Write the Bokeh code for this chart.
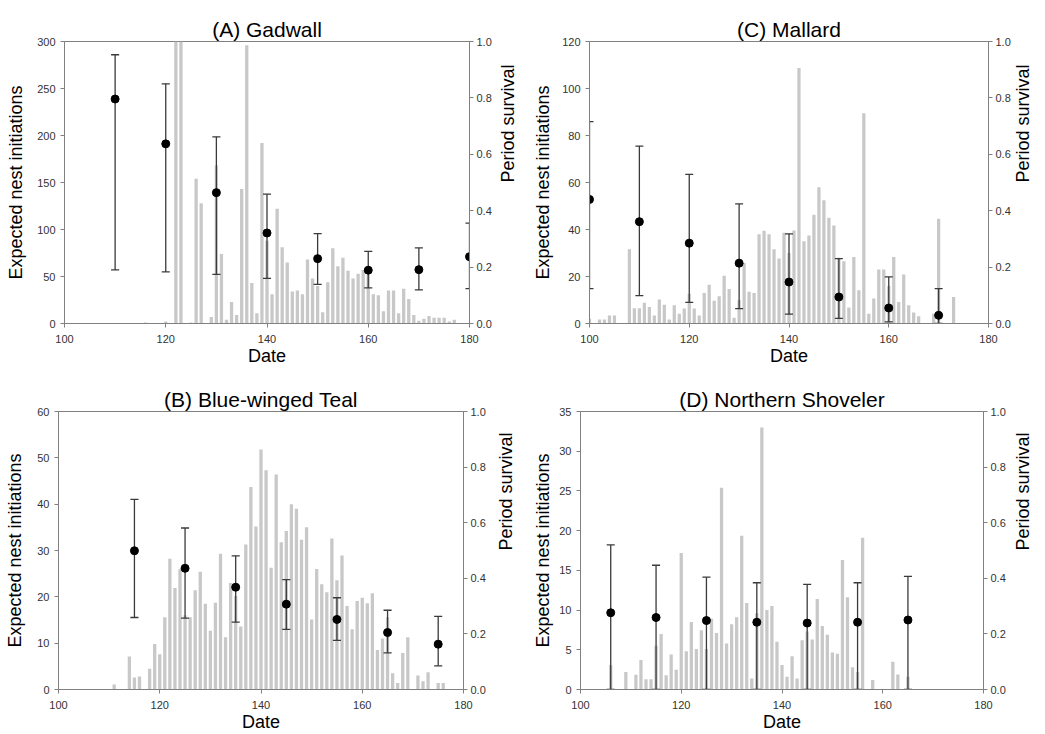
import math
from bokeh.plotting import figure
from bokeh.models import Range1d, LinearAxis, FixedTicker, PrintfTickFormatter
from bokeh.layouts import column, row
from bokeh.embed import file_html
from bokeh.resources import INLINE

FONT = "Liberation Sans"
BAR = "#c8c8c8"
AXIS = "#808080"
EB = "#3a3a3a"

# ---------------- data ----------------
# (A) Gadwall
a_days = [116, 120, 122, 123, 125, 126, 127, 129, 130, 131, 132, 133, 134, 135, 136, 137, 138, 139,
          140, 141, 142, 143, 144, 145, 146, 147, 148, 149, 150, 151, 152, 153, 154, 155, 156, 157,
          158, 159, 160, 161, 162, 163, 164, 165, 166, 167, 168, 169, 170, 171, 172, 173, 174, 175,
          176, 177]
a_nests = [1, 2, 300, 300, 1, 154, 128, 7, 168, 74, 4, 23, 9, 143, 296, 43, 11, 192,
           88, 31, 122, 81, 65, 34, 35, 31, 68, 48, 40, 12, 44, 80, 61, 70, 56, 48,
           53, 57, 52, 31, 30, 13, 35, 35, 11, 37, 26, 9, 3, 5, 8, 6, 6, 6,
           2, 4]
a_sdays = [110, 120, 130, 140, 150, 160, 170, 180]
a_surv = [0.796, 0.637, 0.464, 0.321, 0.230, 0.189, 0.191, 0.237]
a_lo = [0.190, 0.183, 0.174, 0.160, 0.139, 0.126, 0.119, 0.124]
a_hi = [0.953, 0.850, 0.662, 0.459, 0.319, 0.256, 0.268, 0.356]

# (C) Mallard
c_days = [100, 102, 103, 104, 105, 108, 109, 110, 111, 112, 113, 114, 115, 116, 117, 118, 119,
          120, 121, 122, 123, 124, 125, 126, 127, 128, 129, 130, 131, 132, 133, 134, 135, 136,
          137, 138, 139, 140, 141, 142, 143, 144, 145, 146, 147, 148, 149, 150, 151, 152, 153,
          154, 155, 156, 157, 158, 159, 160, 161, 162, 163, 164, 165, 166, 169, 170, 173]
c_nests = [2, 1.7, 1.7, 3.4, 3.4, 31.6, 6.5, 6.5, 8.8, 7, 3.4, 10.2, 8, 1.7, 7.8, 4.2, 6.4,
           12.7, 6.4, 3.4, 13, 16.5, 9.7, 11.6, 20.3, 14.7, 2.4, 10, 25.7, 13.5, 13, 38, 39.5, 38,
           31.6, 27.7, 38.6, 30, 39.6, 108.7, 35, 37.4, 46.3, 58, 52.5, 45, 41.7, 28, 26.5, 6.8, 28.3,
           14.2, 89.5, 4.2, 10.6, 23, 23, 16, 28.3, 9.2, 20.8, 7.8, 4.7, 3.1, 4.2, 44.6, 11.3]
c_sdays = [100, 110, 120, 130, 140, 150, 160, 170]
c_surv = [0.440, 0.361, 0.285, 0.214, 0.147, 0.094, 0.055, 0.029]
c_lo = [0.124, 0.099, 0.075, 0.053, 0.033, 0.018, 0.006, 0.000]
c_hi = [0.716, 0.629, 0.529, 0.424, 0.318, 0.230, 0.165, 0.124]

# (B) Blue-winged Teal
b_days = [111, 114, 115, 116, 118, 119, 120, 121, 122, 123, 124, 125, 126, 127, 128, 129, 130,
          131, 132, 133, 134, 135, 136, 137, 138, 139, 140, 141, 142, 143, 144, 145, 146, 147,
          148, 149, 150, 151, 152, 153, 154, 155, 156, 157, 158, 159, 160, 161, 162, 163, 164,
          165, 166, 167, 168, 169, 171, 172, 173, 175, 176]
b_nests = [1.1, 7.1, 2.6, 2.8, 4.5, 9.8, 7.6, 15.6, 28.2, 21.9, 26, 16, 15.6, 21.4, 25.4, 18.5, 12.7,
           18.7, 29.3, 11.3, 23, 20.2, 13.6, 31.3, 43.7, 35.2, 51.8, 47.3, 26.3, 46.4, 31.8, 34.2, 40, 39,
           32.3, 35, 15.1, 26, 22.7, 21, 32.6, 23.6, 28.9, 18, 13, 19.1, 19.8, 18.6, 20.8, 8.5, 11,
           15.6, 3.5, 1.4, 7.9, 11.3, 3, 1.8, 3.7, 1.4, 1.4]
b_sdays = [115, 125, 135, 145, 155, 165, 175]
b_surv = [0.499, 0.436, 0.368, 0.307, 0.252, 0.205, 0.163]
b_lo = [0.259, 0.257, 0.242, 0.216, 0.177, 0.132, 0.085]
b_hi = [0.684, 0.581, 0.481, 0.395, 0.330, 0.285, 0.263]

# (D) Northern Shoveler
d_days = [106, 109, 111, 112, 113, 114, 115, 116, 117, 118, 119, 120, 121, 122, 123, 124, 125,
          126, 127, 128, 129, 130, 131, 132, 133, 134, 135, 136, 137, 138, 139, 140, 141, 142,
          143, 144, 145, 146, 147, 148, 149, 150, 151, 152, 153, 154, 155, 156, 158, 162, 163, 165]
d_nests = [3.1, 2.2, 1.85, 3.7, 1.3, 1.3, 5.5, 7.0, 1.8, 4.4, 2.5, 17.2, 4.8, 8.5, 5.1, 7.45, 5.1,
           8.9, 7.1, 25.4, 5.8, 8.2, 9.1, 19.35, 10.9, 1.4, 9.6, 33.0, 10.0, 10.5, 6.0, 3.1, 1.6, 4.2,
           1.4, 6.2, 7.3, 6.3, 11.4, 8.0, 6.9, 4.65, 4.5, 16.3, 11.6, 2.8, 2.2, 19.1, 1.2, 3.5, 1.9, 1.6]
d_sdays = [106, 115, 125, 135, 145, 155, 165]
d_surv = [0.276, 0.259, 0.248, 0.242, 0.239, 0.242, 0.250]
d_lo = [0.0, 0.0, 0.0, 0.0, 0.0, 0.0, 0.0]
d_hi = [0.520, 0.447, 0.404, 0.384, 0.378, 0.384, 0.407]

x_ticks = [100, 120, 140, 160, 180]
surv_ticks = [0.0, 0.2, 0.4, 0.6, 0.8, 1.0]


def panel(title, days, nests, ymax, ystep, sdays, surv, lo, hi,
          width, height, bl, br, bt, bb, left_lab_sd, right_lab_sd):
    p = figure(width=width, height=height, x_range=Range1d(100, 180), y_range=Range1d(0, ymax),
               output_backend="svg", toolbar_location=None, tools="",
               min_border_left=bl, min_border_right=br, min_border_top=bt, min_border_bottom=bb)
    p.extra_y_ranges = {"surv": Range1d(0, 1)}
    p.xgrid.visible = False
    p.ygrid.visible = False
    p.outline_line_color = AXIS
    p.background_fill_color = "white"
    p.border_fill_color = "white"

    p.vbar(x=days, top=nests, bottom=0, width=0.65, fill_color=BAR, line_color=None)

    cap = 0.8
    p.segment(x0=sdays, y0=lo, x1=sdays, y1=hi, y_range_name="surv", line_color=EB, line_width=1.3)
    p.segment(x0=[d - cap for d in sdays], y0=hi, x1=[d + cap for d in sdays], y1=hi,
              y_range_name="surv", line_color=EB, line_width=1.3)
    p.segment(x0=[d - cap for d in sdays], y0=lo, x1=[d + cap for d in sdays], y1=lo,
              y_range_name="surv", line_color=EB, line_width=1.3)
    p.scatter(x=sdays, y=surv, size=8, fill_color="black", line_color="black", y_range_name="surv")

    rax = LinearAxis(y_range_name="surv", axis_label="Period survival")
    rax.ticker = FixedTicker(ticks=surv_ticks)
    rax.formatter = PrintfTickFormatter(format="%.1f")
    p.add_layout(rax, "right")

    p.xaxis.ticker = FixedTicker(ticks=x_ticks)
    p.xaxis.axis_label = "Date"
    p.yaxis[0].ticker = FixedTicker(ticks=list(range(0, ymax + 1, ystep)))
    p.yaxis[0].axis_label = "Expected nest initiations"

    for ax in p.axis:
        ax.axis_line_color = AXIS
        ax.major_tick_line_color = AXIS
        ax.major_tick_out = 4
        ax.major_tick_in = 0
        ax.minor_tick_out = 0
        ax.minor_tick_in = 0
        ax.major_label_text_font = FONT
        ax.major_label_text_font_size = "11px"
        ax.major_label_text_color = "#333333"
        ax.axis_label_text_font = FONT
        ax.axis_label_text_font_size = "18px"
        ax.axis_label_text_font_style = "normal"
        ax.axis_label_text_color = "black"
    p.xaxis.major_label_standoff = 7
    p.xaxis.axis_label_standoff = 0
    p.yaxis[0].major_label_standoff = 5
    p.yaxis[0].axis_label_standoff = left_lab_sd
    rax.major_label_standoff = 3
    rax.axis_label_standoff = right_lab_sd
    rax.axis_label_orientation = math.pi / 2

    p.title.text = title
    p.title.align = "center"
    p.title.text_font = FONT
    p.title.text_font_size = "21px"
    p.title.text_font_style = "normal"
    p.title.text_color = "black"
    p.title.standoff = 2
    return p


W1, W2 = 530, 515
H1, H2 = 368, 366

pa = panel("(A) Gadwall", a_days, a_nests, 300, 50, a_sdays, a_surv, a_lo, a_hi,
           W1, H1, 64, 61, 39, 44, 8, 13)
pc = panel("(C) Mallard", c_days, c_nests, 120, 20, c_sdays, c_surv, c_lo, c_hi,
           W2, H1, 57, 56, 41, 44, 6, 9)
pb = panel("(B) Blue-winged Teal", b_days, b_nests, 60, 10, b_sdays, b_surv, b_lo, b_hi,
           W1, H2, 58, 67, 43, 44, 9, 17)
pd_ = panel("(D) Northern Shoveler", d_days, d_nests, 35, 5, d_sdays, d_surv, d_lo, d_hi,
            W2, H2, 45, 62, 41, 44, 3, 14)

layout = column(row(pa, pc), row(pb, pd_))

open("out.html", "w").write(file_html(layout, INLINE))
